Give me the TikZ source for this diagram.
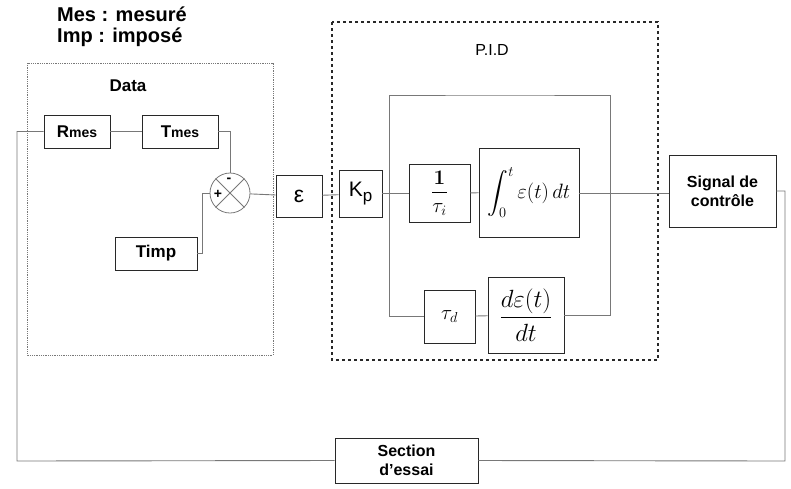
\documentclass[tikz,border=0pt]{standalone}
\usepackage{amsmath}
\usepackage{fontspec}
\setmainfont{Liberation Sans}
\usepackage{xcolor}
\usetikzlibrary{calc}
\definecolor{trait}{RGB}{120,120,120}
\definecolor{cadre}{RGB}{40,40,40}

\begin{document}
\begin{tikzpicture}[x=1pt,y=-1pt,every node/.style={font=\fontsize{17}{19}\selectfont\bfseries,align=center,inner sep=0pt},
  bloc/.style={draw=cadre,fill=white,line width=0.8pt},
  lien/.style={draw=trait,line width=0.9pt}]
\useasboundingbox (0,0) rectangle (791,488);
\node[anchor=north west,align=left,font=\fontsize{20}{21}\selectfont\bfseries] (legende) at (57,7) {Mes : mesuré\\Imp : imposé};
% les deux cadres
\draw[densely dotted,draw=trait,line width=0.8pt] (27,63) rectangle (273,355);
\draw[dashed,draw=cadre,line width=1.3pt] (332,22) rectangle (658,360);
\node (data) at (128,86) {Data};
\node[font=\fontsize{16}{18}\selectfont] (pid) at (492,50) {P.I.D};
% blocs
\node[bloc,minimum width=66,minimum height=33] (rmes) at (77,131.5) {{\fontsize{17}{19}\selectfont R}{\fontsize{14}{16}\selectfont mes}};
\node[bloc,minimum width=76,minimum height=33] (tmes) at (180,131.5) {{\fontsize{17}{19}\selectfont T}{\fontsize{14}{16}\selectfont mes}};
\node[bloc,minimum width=82,minimum height=33] (timp) at (156,253.5) {Timp};
\node[circle,draw=trait,line width=0.8pt,minimum size=40] (somme) at (230,193) {};
\draw[trait,line width=0.8pt] (somme.north east) -- (somme.south west) (somme.north west) -- (somme.south east);
\node[font=\fontsize{14}{14}\selectfont\bfseries] (moins) at (229,180) {-};
\node[font=\fontsize{14}{14}\selectfont\bfseries] (plus) at (218,194) {+};
\node[bloc,minimum width=46,minimum height=42,font=\fontsize{23}{23}\selectfont] (eps) at (299,196) {ε};
\node[bloc,minimum width=43,minimum height=47,font=\fontsize{21}{21}\selectfont] (kp) at (360.5,194) {K\raisebox{-5pt}{\fontsize{17}{17}\selectfont p}};
\node[bloc,minimum width=61,minimum height=58,font=\fontsize{22}{22}\selectfont] (taui) at (439.5,193) {$\dfrac{\boldsymbol{1}}{\tau_i}$};
\node[bloc,minimum width=100,minimum height=89,font=\fontsize{22}{22}\selectfont] (integ) at (529,192.5) {$\displaystyle\int_0^t \varepsilon(t)\,dt$};
\node[bloc,minimum width=51,minimum height=53,font=\fontsize{21}{21}\selectfont] (taud) at (449.5,316.5) {$\tau_d$};
\node[bloc,minimum width=76,minimum height=76,font=\fontsize{25}{25}\selectfont] (deriv) at (526,315) {$\dfrac{d\varepsilon(t)}{dt}$};
\node[bloc,minimum width=107,minimum height=72,font=\fontsize{16}{19}\selectfont\bfseries] (signal) at (722.5,191) {Signal de\\contrôle};
\node[bloc,minimum width=143,minimum height=45,font=\fontsize{16}{19}\selectfont\bfseries] (essai) at (406.5,460.5) {Section\\d'essai};
% points de branchement
\coordinate (jg) at (389,193);
\coordinate (jd) at (610,193);
\coordinate (haut) at (500,95);
\coordinate (bd) at (785,461);
\coordinate (bg) at (17,461);
% liaisons
\draw[lien] (rmes) -- (tmes);
\draw[lien] (tmes.east) -| (somme.north);
\draw[lien] (timp.east) -- ++(5,0) |- (somme.west);
\draw[lien] (somme) -- (eps);
\draw[lien] (eps) -- (kp);
\draw[lien] (kp.east |- jg) -- (taui);
\draw[lien] (taui) -- (integ);
\draw[lien] (integ.east |- jd) -- (signal.west |- jd);
\draw[lien] (jg) |- (haut) -| (jd);
\draw[lien] (jg) |- (taud.west);
\draw[lien] (taud) -- (deriv);
\draw[lien] (deriv.east) -| (jd);
\draw[lien] (signal.east) -| (bd) -- (essai.east);
\draw[lien] (essai.west) -- (bg) |- (rmes.west);
\end{tikzpicture}
\end{document}
